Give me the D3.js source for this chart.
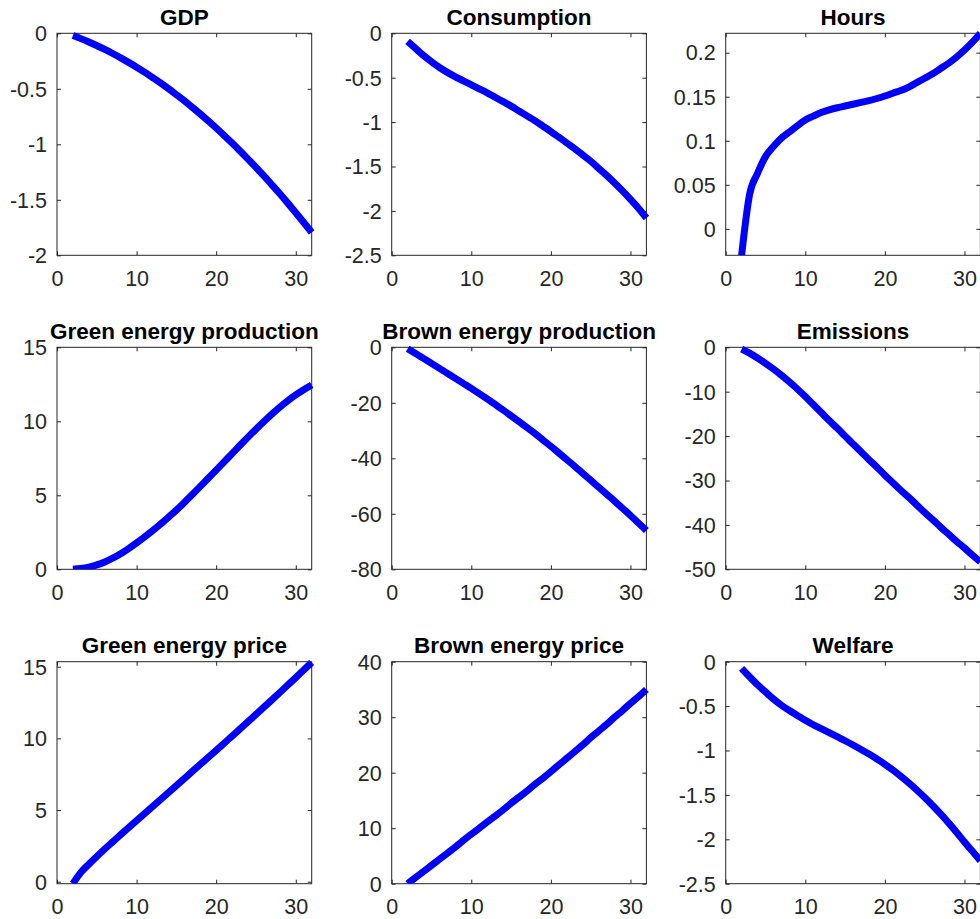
<!DOCTYPE html>
<html>
<head>
<meta charset="utf-8">
<script src="https://cdn.jsdelivr.net/npm/d3@7"></script>
<style>
  html, body { margin: 0; padding: 0; background: #fff; overflow: hidden; }
  svg { display: block; }
  text { font-family: "Liberation Sans", Arial, Helvetica, sans-serif; }
</style>
</head>
<body>
<svg id="chart" width="980" height="919"></svg>
<script>
// Simulation horizon (periods)
const periods = [2, 3, 4, 5, 6, 7, 8, 9, 10, 11, 12, 13, 14, 15, 16, 17,
                 18, 19, 20, 21, 22, 23, 24, 25, 26, 27, 28, 29, 30, 31, 32];

// Responses, one value per period
const gdp = [-0.020, -0.048, -0.078, -0.111, -0.145, -0.182, -0.221, -0.262, -0.305, -0.350,
             -0.398, -0.447, -0.499, -0.553, -0.608, -0.667, -0.727, -0.789, -0.853, -0.920,
             -0.989, -1.060, -1.133, -1.208, -1.285, -1.365, -1.446, -1.530, -1.616, -1.704, -1.794];

const consumption = [-0.09, -0.17, -0.25, -0.32, -0.385, -0.44, -0.49, -0.535, -0.58, -0.625,
                     -0.67, -0.72, -0.77, -0.82, -0.875, -0.93, -0.985, -1.045, -1.106, -1.17,
                     -1.235, -1.30, -1.37, -1.44, -1.52, -1.60, -1.685, -1.775, -1.87, -1.97, -2.08];

const hours = [-0.030, 0.039, 0.063, 0.082, 0.0935, 0.103, 0.110, 0.117, 0.1236, 0.128,
               0.132, 0.135, 0.1375, 0.1395, 0.1415, 0.1435, 0.1455, 0.148, 0.1508, 0.154,
               0.157, 0.161, 0.166, 0.171, 0.176, 0.182, 0.188, 0.195, 0.203, 0.212, 0.222];

const greenProduction = [0, 0.05, 0.15, 0.30, 0.50, 0.75, 1.05, 1.40, 1.78, 2.18,
                         2.60, 3.05, 3.52, 4.00, 4.52, 5.05, 5.60, 6.15, 6.70, 7.26,
                         7.82, 8.38, 8.93, 9.47, 9.99, 10.49, 10.96, 11.39, 11.78, 12.13, 12.45];

const brownProduction = [-0.5, -2.2, -4.0, -5.8, -7.6, -9.4, -11.2, -13.0, -14.8, -16.7,
                         -18.6, -20.6, -22.6, -24.7, -26.8, -28.9, -31.1, -33.4, -35.7, -38.1,
                         -40.5, -42.9, -45.4, -47.9, -50.4, -52.9, -55.4, -58.0, -60.6, -63.3, -66.0];

const emissions = [-0.4, -1.3, -2.4, -3.6, -4.9, -6.3, -7.8, -9.4, -11.1, -12.9,
                   -14.7, -16.5, -18.2, -20.0, -21.8, -23.5, -25.3, -27.0, -28.8, -30.5,
                   -32.2, -33.8, -35.5, -37.2, -38.8, -40.5, -42.1, -43.7, -45.2, -46.8, -48.3];

const greenPrice = [-0.14, 0.65, 1.22, 1.76, 2.28, 2.78, 3.28, 3.77, 4.26, 4.75,
                    5.24, 5.73, 6.22, 6.71, 7.20, 7.69, 8.18, 8.67, 9.16, 9.66,
                    10.16, 10.66, 11.17, 11.67, 12.18, 12.69, 13.20, 13.72, 14.24, 14.77, 15.30];

const brownPrice = [0, 1.1, 2.2, 3.3, 4.4, 5.5, 6.6, 7.8, 8.9, 10.0,
                    11.1, 12.2, 13.3, 14.5, 15.6, 16.7, 17.9, 19.0, 20.2, 21.4,
                    22.6, 23.8, 25.0, 26.3, 27.5, 28.7, 30.0, 31.2, 32.5, 33.7, 35.0];

const welfare = [-0.075, -0.17, -0.26, -0.34, -0.42, -0.49, -0.55, -0.605, -0.66, -0.71,
                 -0.755, -0.80, -0.845, -0.89, -0.938, -0.988, -1.04, -1.095, -1.155, -1.22,
                 -1.29, -1.365, -1.445, -1.53, -1.62, -1.715, -1.815, -1.92, -2.03, -2.135, -2.24];

// Panel titles
const titles = ["GDP", "Consumption", "Hours",
                "Green energy production", "Brown energy production", "Emissions",
                "Green energy price", "Brown energy price", "Welfare"];

// Shared x axis
const xDomain = [0, 32];
const xTicks = [0, 10, 20, 30];
const xTickLabels = ["0", "10", "20", "30"];

// Per-panel y limits, ticks and tick labels
const yDomains = [[-2, 0], [-2.5, 0], [-0.03, 0.222],
                  [0, 15], [-80, 0], [-50, 0],
                  [-0.14, 15.35], [0, 40], [-2.5, 0]];
const yTicks = [[-2, -1.5, -1, -0.5, 0],
                [-2.5, -2, -1.5, -1, -0.5, 0],
                [0, 0.05, 0.1, 0.15, 0.2],
                [0, 5, 10, 15],
                [-80, -60, -40, -20, 0],
                [-50, -40, -30, -20, -10, 0],
                [0, 5, 10, 15],
                [0, 10, 20, 30, 40],
                [-2.5, -2, -1.5, -1, -0.5, 0]];
const yTickLabels = [["-2", "-1.5", "-1", "-0.5", "0"],
                     ["-2.5", "-2", "-1.5", "-1", "-0.5", "0"],
                     ["0", "0.05", "0.1", "0.15", "0.2"],
                     ["0", "5", "10", "15"],
                     ["-80", "-60", "-40", "-20", "0"],
                     ["-50", "-40", "-30", "-20", "-10", "0"],
                     ["0", "5", "10", "15"],
                     ["0", "10", "20", "30", "40"],
                     ["-2.5", "-2", "-1.5", "-1", "-0.5", "0"]];

const seriesList = [gdp, consumption, hours,
                    greenProduction, brownProduction, emissions,
                    greenPrice, brownPrice, welfare];

// Grid geometry
const colLeft = [57, 391.7, 725.7];
const rowTop = [33.3, 347.3, 661.7];
const plotW = 254.7;
const plotH = 222;

const axisColor = "#262626";
const tickFont = 21.5;
const titleFont = 22.5;
const tickLen = 4;

const svg = d3.select("#chart");

function styleAxis(g, showLabels) {
  g.select(".domain").remove();
  g.selectAll(".tick line").attr("stroke", axisColor).attr("stroke-width", 1);
  g.attr("font-family", null).attr("font-size", null);
  g.selectAll(".tick text")
    .attr("fill", axisColor)
    .style("font-size", tickFont + "px")
    .style("display", showLabels ? null : "none");
}

seriesList.forEach((values, i) => {
  const col = i % 3, row = Math.floor(i / 3);
  const left = colLeft[col], top = rowTop[row];

  const x = d3.scaleLinear().domain(xDomain).range([left, left + plotW]);
  const y = d3.scaleLinear().domain(yDomains[i]).range([top + plotH, top]);

  const panel = svg.append("g").attr("class", "panel");

  // Bottom axis with labels, ticks pointing inward
  panel.append("g")
    .attr("transform", `translate(0,${top + plotH})`)
    .call(d3.axisBottom(x).tickValues(xTicks)
      .tickFormat((d, k) => xTickLabels[k])
      .tickSizeInner(-tickLen).tickSizeOuter(0).tickPadding(15.5))
    .call(g => styleAxis(g, true));

  // Mirrored top ticks
  panel.append("g")
    .attr("transform", `translate(0,${top})`)
    .call(d3.axisTop(x).tickValues(xTicks).tickFormat(() => "")
      .tickSizeInner(-tickLen).tickSizeOuter(0))
    .call(g => styleAxis(g, false));

  // Left axis with labels
  panel.append("g")
    .attr("transform", `translate(${left},0)`)
    .call(d3.axisLeft(y).tickValues(yTicks[i])
      .tickFormat((d, k) => yTickLabels[i][k])
      .tickSizeInner(-tickLen).tickSizeOuter(0).tickPadding(10))
    .call(g => styleAxis(g, true))
    .call(g => g.selectAll(".tick text").attr("dy", "0.34em"));

  // Mirrored right ticks
  panel.append("g")
    .attr("transform", `translate(${left + plotW},0)`)
    .call(d3.axisRight(y).tickValues(yTicks[i]).tickFormat(() => "")
      .tickSizeInner(-tickLen).tickSizeOuter(0))
    .call(g => styleAxis(g, false));

  // Axes box
  panel.append("rect")
    .attr("x", left).attr("y", top)
    .attr("width", plotW).attr("height", plotH)
    .attr("fill", "none")
    .attr("stroke", axisColor)
    .attr("stroke-width", 1);

  // Clip region for the response line
  const clipId = "clip" + i;
  svg.append("clipPath").attr("id", clipId)
    .append("rect")
    .attr("x", left - 6).attr("y", top - 6)
    .attr("width", plotW + 12).attr("height", plotH + 6);

  const line = d3.line()
    .x((d, k) => x(periods[k]))
    .y(d => y(d))
    .curve(d3.curveMonotoneX);

  panel.append("path")
    .datum(values)
    .attr("clip-path", `url(#${clipId})`)
    .attr("d", line)
    .attr("fill", "none")
    .attr("stroke", "#0000ff")
    .attr("stroke-width", 7)
    .attr("stroke-linejoin", "round")
    .attr("stroke-linecap", "butt");

  // Title
  panel.append("text")
    .attr("x", left + plotW / 2)
    .attr("y", top - 8.5)
    .attr("text-anchor", "middle")
    .attr("font-weight", "bold")
    .style("font-size", titleFont + "px")
    .attr("fill", "#000")
    .text(titles[i]);
});
</script>
</body>
</html>
